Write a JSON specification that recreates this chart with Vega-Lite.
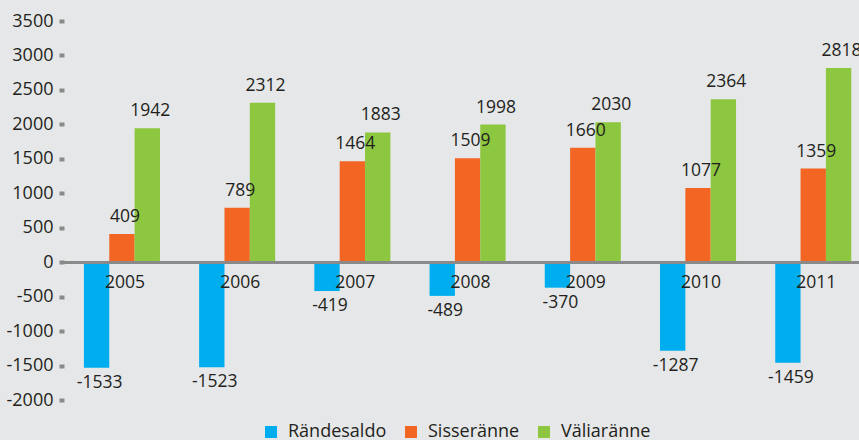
{
  "$schema": "https://vega.github.io/schema/vega-lite/v6.json",
  "width": 795,
  "height": 379,
  "autosize": {"type": "none"},
  "padding": {"left": 64, "top": 21, "right": 0, "bottom": 40},
  "background": "#E6E7E8",
  "config": {
    "view": {"stroke": null},
    "font": "Open Sans",
    "text": {"font": "Open Sans", "fontSize": 17.5, "color": "#231F20"},
    "axisY": {
      "labelExpr": "'' + datum.value",
      "labelOverlap": false, "labelFlush": false,
      "domain": false, "grid": false,
      "tickSize": 5, "tickWidth": 4, "tickColor": "#8A8A8A",
      "labelPadding": 6, "labelFont": "Open Sans", "labelFontSize": 18,
      "labelColor": "#231F20", "title": null
    }
  },
  "data": {
    "values": [
      {"year": "2005", "series": "Rändesaldo", "value": -1533},
      {"year": "2005", "series": "Sisseränne", "value": 409},
      {"year": "2005", "series": "Väliaränne", "value": 1942},
      {"year": "2006", "series": "Rändesaldo", "value": -1523},
      {"year": "2006", "series": "Sisseränne", "value": 789},
      {"year": "2006", "series": "Väliaränne", "value": 2312},
      {"year": "2007", "series": "Rändesaldo", "value": -419},
      {"year": "2007", "series": "Sisseränne", "value": 1464},
      {"year": "2007", "series": "Väliaränne", "value": 1883},
      {"year": "2008", "series": "Rändesaldo", "value": -489},
      {"year": "2008", "series": "Sisseränne", "value": 1509},
      {"year": "2008", "series": "Väliaränne", "value": 1998},
      {"year": "2009", "series": "Rändesaldo", "value": -370},
      {"year": "2009", "series": "Sisseränne", "value": 1660},
      {"year": "2009", "series": "Väliaränne", "value": 2030},
      {"year": "2010", "series": "Rändesaldo", "value": -1287},
      {"year": "2010", "series": "Sisseränne", "value": 1077},
      {"year": "2010", "series": "Väliaränne", "value": 2364},
      {"year": "2011", "series": "Rändesaldo", "value": -1459},
      {"year": "2011", "series": "Sisseränne", "value": 1359},
      {"year": "2011", "series": "Väliaränne", "value": 2818}
    ]
  },
  "encoding": {
    "x": {
      "field": "year", "type": "nominal",
      "scale": {"paddingInner": 0.34, "paddingOuter": 0.12, "align": 0.72},
      "axis": null
    },
    "y": {
      "field": "value", "type": "quantitative",
      "scale": {"domain": [-2000, 3500], "nice": false, "zero": false},
      "axis": {"values": [-2000, -1500, -1000, -500, 0, 500, 1000, 1500, 2000, 2500, 3000, 3500]}
    }
  },
  "layer": [
    {
      "mark": {"type": "bar"},
      "encoding": {
        "xOffset": {"field": "series", "type": "nominal", "scale": {"paddingInner": 0, "paddingOuter": 0}},
        "color": {
          "field": "series", "type": "nominal",
          "scale": {"domain": ["Rändesaldo", "Sisseränne", "Väliaränne"], "range": ["#00AEEF", "#F26522", "#8DC63F"]},
          "legend": {
            "orient": "none", "legendX": 198, "legendY": 402, "direction": "horizontal",
            "title": null, "symbolType": "square", "symbolSize": 144, "symbolStrokeWidth": 0,
            "symbolOpacity": 1,
            "labelFont": "Open Sans", "labelFontSize": 18, "labelColor": "#231F20",
            "labelOffset": 8, "columnPadding": 15
          }
        }
      }
    },
    {
      "mark": {"type": "rule", "color": "#8A8A8A", "strokeWidth": 2.5},
      "encoding": {"y": {"datum": 0, "type": "quantitative", "axis": {"values": [-2000, -1500, -1000, -500, 0, 500, 1000, 1500, 2000, 2500, 3000, 3500]}}, "x": {"value": 0}, "x2": {"value": 795}}
    },
    {
      "transform": [{"filter": "datum.series === 'Rändesaldo'"}],
      "mark": {"type": "text", "baseline": "middle", "align": "center", "dy": 21, "dx": 3},
      "encoding": {
        "y": {"datum": 0, "type": "quantitative", "axis": {"values": [-2000, -1500, -1000, -500, 0, 500, 1000, 1500, 2000, 2500, 3000, 3500]}},
        "text": {"field": "year", "type": "nominal"}
      }
    },
    {
      "transform": [{"filter": "datum.value >= 0"}],
      "mark": {"type": "text", "baseline": "alphabetic", "align": "center", "dy": -12, "dx": 3},
      "encoding": {
        "xOffset": {"field": "series", "type": "nominal"},
        "text": {"field": "value", "type": "nominal"}
      }
    },
    {
      "transform": [{"filter": "datum.value < 0"}],
      "mark": {"type": "text", "baseline": "top", "align": "center", "dy": 6, "dx": 3},
      "encoding": {
        "xOffset": {"field": "series", "type": "nominal"},
        "text": {"field": "value", "type": "nominal"}
      }
    }
  ]
}
